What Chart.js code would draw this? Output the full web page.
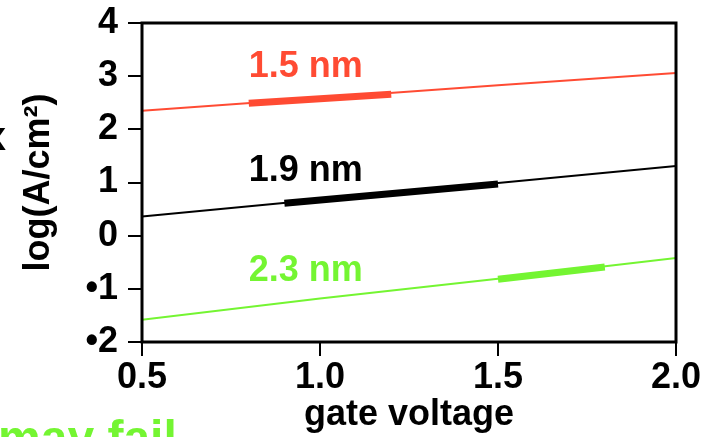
<!DOCTYPE html>
<html>
<head>
    <meta charset="utf-8">
    <title>Gate leakage vs gate voltage</title>
    <script src="https://cdn.jsdelivr.net/npm/chart.js"></script>
    <style>
        html, body { margin: 0; padding: 0; background: #fff; overflow: hidden; }
        #wrap { width: 709px; height: 437px; position: relative; }
    </style>
</head>
<body>
    <div id="wrap"><canvas id="chart"></canvas></div>

    <script>
        // tick labels (the minus signs show up as bullets in the original)
        const xTickLabels = ['0.5', '1.0', '1.5', '2.0'];
        const yTickLabels = ['•2', '•1', '0', '1', '2', '3', '4'];   // -2 .. 4

        // full curves, log(A/cm²) vs gate voltage
        const voltage = [0.5, 1.0, 1.5, 2.0];
        const j15 = [2.35, 2.59, 2.83, 3.06];
        const j19 = [0.36, 0.68, 0.99, 1.31];
        const j23 = [-1.58, -1.18, -0.81, -0.42];

        // thick stretches
        const seg15V = [0.8, 1.2];
        const seg15 = [2.49, 2.66];
        const seg19V = [0.9, 1.5];
        const seg19 = [0.61, 0.97];
        const seg23V = [1.5, 1.8];
        const seg23 = [-0.82, -0.59];

        // curve labels (x = left edge, y = baseline, in data units)
        const labelText = ['1.5 nm', '1.9 nm', '2.3 nm'];
        const labelV = [0.8, 0.8, 0.8];
        const labelY = [2.99, 1.03, -0.86];

        const RED = '#ff4b33';
        const GREEN = '#74f532';
        const BLACK = '#000000';
        const FONT = "'Liberation Sans', Arial, Helvetica, sans-serif";
        const labelColors = [RED, BLACK, GREEN];

        function pts(xs, ys) {
            return xs.map((x, i) => ({ x: x, y: ys[i] }));
        }

        function thin(xs, ys, color) {
            return { data: pts(xs, ys), borderColor: color, borderWidth: 2, pointRadius: 0, tension: 0 };
        }
        function thick(xs, ys, color) {
            return { data: pts(xs, ys), borderColor: color, borderWidth: 7, pointRadius: 0, borderCapStyle: 'butt' };
        }

        const framePlugin = {
            id: 'frame',
            afterDraw(chart) {
                const { ctx, chartArea: a, scales } = chart;
                ctx.save();
                // box around the plot
                ctx.strokeStyle = BLACK;
                ctx.lineWidth = 3;
                ctx.strokeRect(a.left, a.top, a.right - a.left, a.bottom - a.top);

                // curve labels
                ctx.font = 'bold 36px ' + FONT;
                ctx.textAlign = 'left';
                ctx.textBaseline = 'alphabetic';
                labelText.forEach((t, i) => {
                    ctx.fillStyle = labelColors[i];
                    ctx.fillText(t, scales.x.getPixelForValue(labelV[i]), scales.y.getPixelForValue(labelY[i]));
                });

                // bits of slide text cut off at the edges
                ctx.fillStyle = BLACK;
                ctx.font = 'bold 40px ' + FONT;
                ctx.textAlign = 'right';
                ctx.fillText('x', 6, 150);
                ctx.fillStyle = GREEN;
                ctx.font = 'bold 48px ' + FONT;
                ctx.textAlign = 'left';
                ctx.fillText('may fail', -2, 454);
                ctx.restore();
            }
        };

        const axisGrid = {
            drawOnChartArea: false,
            drawTicks: true,
            tickLength: 14,
            lineWidth: 2,
            color: BLACK
        };

        new Chart(document.getElementById('chart'), {
            type: 'line',
            data: {
                datasets: [
                    thin(voltage, j15, RED),
                    thin(voltage, j19, BLACK),
                    thin(voltage, j23, GREEN),
                    thick(seg15V, seg15, RED),
                    thick(seg19V, seg19, BLACK),
                    thick(seg23V, seg23, GREEN)
                ]
            },
            options: {
                responsive: true,
                maintainAspectRatio: false,
                animation: false,
                layout: { padding: { top: 23, right: 33, left: 0, bottom: 0 } },
                plugins: {
                    legend: { display: false },
                    tooltip: { enabled: false }
                },
                scales: {
                    x: {
                        type: 'linear',
                        min: 0.5,
                        max: 2.0,
                        border: { display: false },
                        grid: axisGrid,
                        ticks: {
                            stepSize: 0.5,
                            autoSkip: false,
                            maxRotation: 0,
                            padding: 0,
                            color: BLACK,
                            font: { family: FONT, size: 36, weight: 'bold' },
                            callback: v => xTickLabels[Math.round((v - 0.5) / 0.5)]
                        },
                        title: {
                            display: true,
                            text: 'gate voltage',
                            color: BLACK,
                            font: { family: FONT, size: 36, weight: 'bold' },
                            padding: { top: 0, bottom: 0 }
                        },
                        afterFit: s => {
                            s.height = 95;
                            s.paddingLeft = 0;
                            s.paddingRight = 0;
                        }
                    },
                    y: {
                        type: 'linear',
                        min: -2,
                        max: 4,
                        border: { display: false },
                        grid: axisGrid,
                        ticks: {
                            stepSize: 1,
                            padding: 10,
                            color: BLACK,
                            font: { family: FONT, size: 36, weight: 'bold' },
                            callback: v => yTickLabels[Math.round(v) + 2]
                        },
                        title: {
                            display: true,
                            text: 'log(A/cm²)',
                            color: BLACK,
                            font: { family: FONT, size: 36, weight: 'bold' },
                            padding: { top: 17, bottom: 0 }
                        },
                        afterFit: s => {
                            s.width = 142;
                            s.paddingTop = 0;
                            s.paddingBottom = 0;
                        }
                    }
                }
            },
            plugins: [framePlugin]
        });
    </script>
</body>
</html>
